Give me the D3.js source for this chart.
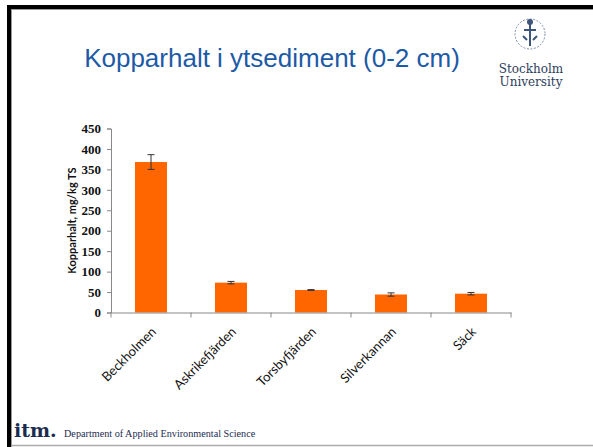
<!DOCTYPE html>
<html><head><meta charset="utf-8">
<script src="https://cdn.jsdelivr.net/npm/d3@7"></script>
<style>
html,body{margin:0;padding:0;background:#fff;}
svg{display:block;}
</style></head>
<body>
<svg id="c" width="593" height="447"></svg>
<script>
const categories = ["Beckholmen","Askrikefjärden","Torsbyfjärden","Silverkannan","Säck"];
const values = [368, 73, 55, 44, 46];
const errors = [18, 3, 1, 4, 3];
const yTicks = [0,50,100,150,200,250,300,350,400,450];

const svg = d3.select("#c");

// slide frame
svg.append("rect").attr("x",0).attr("y",0).attr("width",593).attr("height",447).attr("fill","#fff");
svg.append("line").attr("x1",7).attr("x2",593).attr("y1",7).attr("y2",7).attr("stroke","#000").attr("stroke-width",4);
svg.append("line").attr("x1",9).attr("x2",9).attr("y1",5).attr("y2",447).attr("stroke","#000").attr("stroke-width",4);
svg.append("line").attr("x1",11).attr("x2",593).attr("y1",9.5).attr("y2",9.5).attr("stroke","#999").attr("stroke-width",1);
svg.append("line").attr("x1",11.5).attr("x2",11.5).attr("y1",9).attr("y2",447).attr("stroke","#999").attr("stroke-width",1);
svg.append("line").attr("x1",11).attr("x2",593).attr("y1",445.5).attr("y2",445.5).attr("stroke","#aaa").attr("stroke-width",1.5);

// title
svg.append("text").attr("x",272).attr("y",66.5).attr("text-anchor","middle")
  .attr("font-family","Liberation Sans, Arial, sans-serif").attr("font-size",26)
  .attr("fill","#1d5aa6").text("Kopparhalt i ytsediment (0-2 cm)");

// logo
const logo = svg.append("g");
logo.append("circle").attr("cx",530).attr("cy",34).attr("r",15).attr("fill","none").attr("stroke","#7c8ea8").attr("stroke-width",1).attr("stroke-dasharray","2,1.5");
logo.append("path").attr("d","M530,22 L530,46 M524,30 L536,30 M523,36 L527,40 M537,36 L533,40").attr("stroke","#3d557a").attr("stroke-width",2).attr("fill","none");
logo.append("circle").attr("cx",530).attr("cy",22).attr("r",3).attr("fill","#3d557a");
logo.append("text").attr("x",531).attr("y",73).attr("text-anchor","middle")
  .attr("font-family","DejaVu Serif, Liberation Serif, serif").attr("font-size",12).attr("fill","#2d3e5c").text("Stockholm");
logo.append("text").attr("x",531).attr("y",86).attr("text-anchor","middle")
  .attr("font-family","DejaVu Serif, Liberation Serif, serif").attr("font-size",12).attr("fill","#2d3e5c").text("University");

// footer
svg.append("text").attr("x",14).attr("y",437).attr("font-family","DejaVu Serif, serif").attr("font-weight","bold")
  .attr("font-size",19).attr("fill","#1c2c50").text("itm.");
svg.append("text").attr("x",64).attr("y",437).attr("font-family","Liberation Serif, serif")
  .attr("font-size",10.2).attr("fill","#1c2c50").text("Department of Applied Environmental Science");

// chart
const x0 = 111, x1 = 511, yTop = 128.5, yBot = 312.5;
const x = d3.scaleBand().domain(categories).range([x0,x1]).paddingInner(0.6).paddingOuter(0.3);
const xb = d3.scaleBand().domain(categories).range([x0,x1]);
const y = d3.scaleLinear().domain([0,450]).range([yBot,yTop]);

const g = svg.append("g");

// y axis
const yAxis = g.append("g").attr("transform",`translate(${x0},0)`)
  .call(d3.axisLeft(y).tickValues(yTicks).tickSize(4).tickPadding(6));
yAxis.select(".domain").attr("stroke","#888");
yAxis.selectAll(".tick line").attr("stroke","#888");
yAxis.selectAll("text").attr("font-family","Liberation Serif, serif").attr("font-weight","bold")
  .attr("font-size",13).attr("fill","#111");

// bars
g.selectAll("rect.bar").data(values).enter().append("rect").attr("class","bar")
  .attr("x",(d,i)=>x(categories[i])).attr("width",x.bandwidth())
  .attr("y",d=>y(d)).attr("height",d=>y(0)-y(d)).attr("fill","#ff6600");

// error bars
const eb = g.selectAll("g.err").data(values).enter().append("g").attr("class","err");
eb.append("line").attr("x1",(d,i)=>xb(categories[i])+xb.bandwidth()/2).attr("x2",(d,i)=>xb(categories[i])+xb.bandwidth()/2)
  .attr("y1",(d,i)=>y(d+errors[i])).attr("y2",(d,i)=>y(d-errors[i])).attr("stroke","#333").attr("stroke-width",1);
eb.append("line").attr("x1",(d,i)=>xb(categories[i])+xb.bandwidth()/2-3.5).attr("x2",(d,i)=>xb(categories[i])+xb.bandwidth()/2+3.5)
  .attr("y1",(d,i)=>y(d+errors[i])).attr("y2",(d,i)=>y(d+errors[i])).attr("stroke","#333").attr("stroke-width",1);
eb.append("line").attr("x1",(d,i)=>xb(categories[i])+xb.bandwidth()/2-3.5).attr("x2",(d,i)=>xb(categories[i])+xb.bandwidth()/2+3.5)
  .attr("y1",(d,i)=>y(d-errors[i])).attr("y2",(d,i)=>y(d-errors[i])).attr("stroke","#333").attr("stroke-width",1);

// x axis
const xAxis = g.append("g").attr("transform",`translate(0,${yBot})`)
  .call(d3.axisBottom(xb).tickSize(0).tickFormat(""));
xAxis.select(".domain").attr("stroke","#888");
const bounds = categories.map(c=>xb(c)).concat([x1]);
g.selectAll("line.xt").data(bounds).enter().append("line").attr("class","xt")
  .attr("x1",d=>d).attr("x2",d=>d).attr("y1",yBot).attr("y2",yBot+5).attr("stroke","#888");
// labels
g.selectAll("text.xl").data(categories).enter().append("text").attr("class","xl")
  .attr("transform",d=>`translate(${xb(d)+xb.bandwidth()/2+6},${yBot+20}) rotate(-45)`)
  .attr("text-anchor","end").attr("font-family","Lato, Open Sans, sans-serif")
  .attr("font-size",13).attr("fill","#111").text(d=>d);

// y label
g.append("text").attr("transform",`translate(76,${(yTop+yBot)/2}) rotate(-90)`)
  .attr("text-anchor","middle").attr("font-family","Lato, Open Sans, sans-serif").attr("font-weight","bold")
  .attr("font-size",11).attr("fill","#111").text("Kopparhalt, mg/kg TS");
</script>
</body></html>
